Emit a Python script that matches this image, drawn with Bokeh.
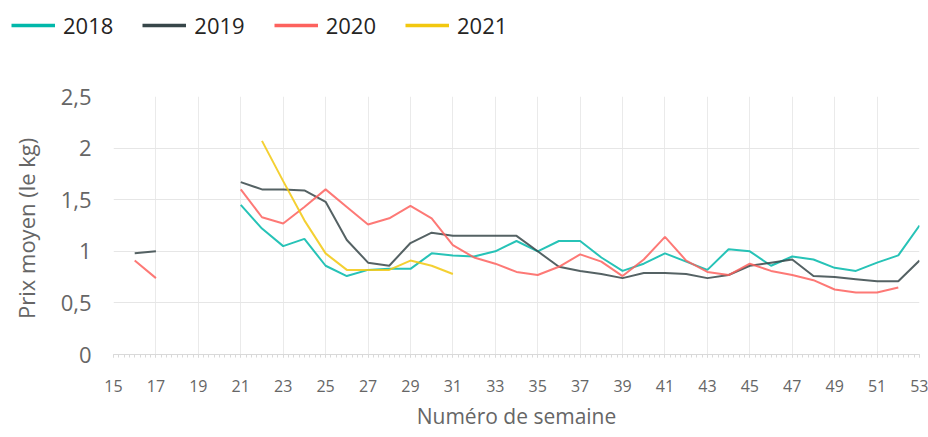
from bokeh.plotting import figure
from bokeh.models import Legend, LegendItem, FixedTicker, ColumnDataSource, Range1d
from bokeh.layouts import column, row
from bokeh.embed import file_html
from bokeh.resources import INLINE

nan = float("nan")

weeks = [16, 17, 18, 19, 20, 21, 22, 23, 24, 25, 26, 27, 28, 29, 30, 31, 32, 33, 34, 35,
         36, 37, 38, 39, 40, 41, 42, 43, 44, 45, 46, 47, 48, 49, 50, 51, 52, 53]

s2018 = [nan, nan, nan, nan, nan, 1.45, 1.22, 1.05, 1.12, 0.86, 0.76, 0.82, 0.83, 0.83, 0.98, 0.96,
         0.95, 1.00, 1.10, 1.00, 1.10, 1.10, 0.94, 0.81, 0.88, 0.98, 0.90, 0.82, 1.02, 1.00,
         0.86, 0.95, 0.92, 0.84, 0.81, 0.89, 0.96, 1.25]
s2019 = [0.98, 1.00, nan, nan, nan, 1.67, 1.60, 1.60, 1.59, 1.48, 1.11, 0.89, 0.86, 1.08, 1.18, 1.15,
         1.15, 1.15, 1.15, 1.00, 0.85, 0.81, 0.78, 0.74, 0.79, 0.79, 0.78, 0.74, 0.77, 0.86,
         0.89, 0.92, 0.76, 0.75, 0.73, 0.71, 0.71, 0.91]
s2020 = [0.91, 0.74, nan, nan, nan, 1.60, 1.33, 1.27, 1.43, 1.60, 1.43, 1.26, 1.32, 1.44, 1.32, 1.06,
         0.94, 0.88, 0.80, 0.77, 0.85, 0.97, 0.90, 0.76, 0.92, 1.14, 0.91, 0.80, 0.77, 0.88,
         0.81, 0.77, 0.72, 0.63, 0.60, 0.60, 0.65, nan]
s2021 = [nan, nan, nan, nan, nan, nan, 2.07, 1.68, 1.30, 0.98, 0.82, 0.82, 0.82, 0.91, 0.86, 0.78,
         nan, nan, nan, nan, nan, nan, nan, nan, nan, nan, nan, nan, nan, nan,
         nan, nan, nan, nan, nan, nan, nan, nan]

years = ["2018", "2019", "2020", "2021"]
colors = ["#01B8AA", "#374649", "#FD625E", "#F2C80F"]
series = [s2018, s2019, s2020, s2021]

x_ticks = list(range(15, 54, 2))
y_ticks = [0, 0.5, 1, 1.5, 2, 2.5]
y_labels = ["0", "0,5", "1", "1,5", "2", "2,5"]

FONT = "Open Sans"
GREY = "#666666"

# ---- legend strip (no axes) ----
leg = figure(width=928, height=50, output_backend="svg", toolbar_location=None,
             x_range=Range1d(0, 1), y_range=Range1d(0, 1),
             x_axis_location=None, y_axis_location=None,
             min_border_left=0, min_border_right=0, min_border_top=0, min_border_bottom=0)
leg.grid.visible = False
leg.outline_line_color = None
leg_items = []
for yr, col in zip(years, colors):
    # placeholder renderer (no visible data) so that the legend can draw its swatch
    r = leg.line(x=[nan], y=[nan], line_color=col, line_width=3.5)
    leg_items.append(LegendItem(label=yr, renderers=[r]))
legend = Legend(items=leg_items, orientation="horizontal", location=(11, 10),
                label_text_font=FONT, label_text_font_size="22px", label_text_color="#252423",
                glyph_width=44, glyph_height=20, label_standoff=8, spacing=29,
                padding=0, margin=0, border_line_color=None, background_fill_alpha=0)
leg.add_layout(legend, "center")

# ---- main chart ----
p = figure(width=928, height=387, output_backend="svg", toolbar_location=None,
           x_range=(15, 53), y_range=(0, 2.5),
           min_border_left=113, min_border_right=9, min_border_top=46, min_border_bottom=83)
p.outline_line_color = None

for yr, col, vals in zip(years, colors, series):
    src = ColumnDataSource(dict(x=weeks, y=vals))
    p.line("x", "y", source=src, line_color=col, line_width=2, line_alpha=0.85)

minor = [15 + i * 0.25 for i in range(0, 38 * 4 + 1)]
p.xaxis.ticker = FixedTicker(ticks=x_ticks, minor_ticks=minor)
p.xaxis.axis_line_color = "#D9D9D9"
p.xaxis.major_tick_line_color = "#D9D9D9"
p.xaxis.minor_tick_line_color = "#D9D9D9"
p.xaxis.major_tick_in = 0
p.xaxis.major_tick_out = 3
p.xaxis.minor_tick_in = 0
p.xaxis.minor_tick_out = 3
p.xaxis.major_label_text_font = FONT
p.xaxis.major_label_text_font_size = "16px"
p.xaxis.major_label_text_color = GREY
p.xaxis.major_label_standoff = 22
p.xaxis.axis_label = "Numéro de semaine"
p.xaxis.axis_label_text_font = FONT
p.xaxis.axis_label_text_font_size = "21px"
p.xaxis.axis_label_text_font_style = "normal"
p.xaxis.axis_label_text_color = GREY
p.xaxis.axis_label_standoff = 7

p.yaxis.ticker = FixedTicker(ticks=y_ticks)
p.yaxis.major_label_overrides = {t: l for t, l in zip(y_ticks, y_labels)}
p.yaxis.axis_line_color = None
p.yaxis.major_tick_line_color = None
p.yaxis.minor_tick_line_color = None
p.yaxis.major_label_text_font = FONT
p.yaxis.major_label_text_font_size = "22px"
p.yaxis.major_label_text_color = GREY
p.yaxis.major_label_standoff = 16
p.yaxis.axis_label = "Prix moyen  (le kg)"
p.yaxis.axis_label_text_font = FONT
p.yaxis.axis_label_text_font_size = "22px"
p.yaxis.axis_label_text_font_style = "normal"
p.yaxis.axis_label_text_color = GREY
p.yaxis.axis_label_standoff = 17

p.xgrid.ticker = FixedTicker(ticks=x_ticks)
p.xgrid.grid_line_color = "#EAEAEA"
p.ygrid.ticker = FixedTicker(ticks=y_ticks)
p.ygrid.grid_line_color = "#E6E6E6"

layout = column(row(leg, spacing=0), p, spacing=0)
open("out.html", "w").write(file_html(layout, INLINE))
